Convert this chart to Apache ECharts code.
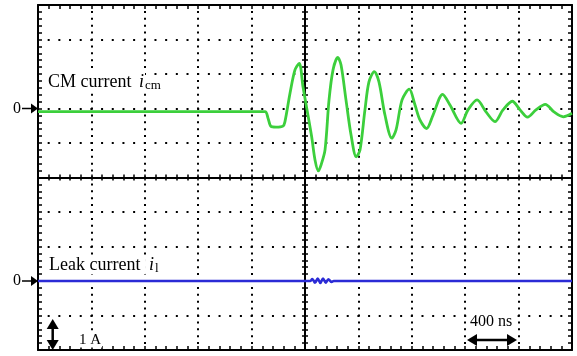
<!DOCTYPE html>
<html>
<head>
<meta charset="utf-8">
<script src="https://cdn.jsdelivr.net/npm/echarts@6/dist/echarts.min.js"></script>
<style>
  html, body { margin: 0; padding: 0; background: #fff; }
  #chart { width: 577px; height: 356px; }
</style>
</head>
<body>
<div id="chart"></div>
<script>
// scope trace, time in ns (trigger at 0), current in A (1 A/div, 400 ns/div)
const cmTime = [-2000, -300, -277, -255, -217, -165, -150, -112, -75, -43, -15, 13, 50, 75, 100, 120, 150, 180, 210, 245, 270, 307, 345, 384, 412, 449, 479, 519, 554, 599, 650, 682, 727, 781, 824, 861, 911, 959, 1031, 1086, 1169, 1221, 1289, 1356, 1423, 1483, 1553, 1611, 1667, 1730, 1800, 1865, 1935, 2000];
const cmCurrent = [-0.09, -0.09, -0.28, -0.52, -0.54, -0.51, -0.38, 0.45, 1.12, 1.31, 0.63, 0.01, -0.82, -1.49, -1.81, -1.64, -1.20, 0.25, 1.12, 1.48, 1.26, 0.25, -0.77, -1.40, -1.20, -0.04, 0.77, 1.07, 0.77, -0.19, -0.86, -0.62, 0.25, 0.56, 0.10, -0.33, -0.58, -0.19, 0.41, 0.10, -0.43, -0.04, 0.25, -0.10, -0.38, -0.04, 0.21, -0.04, -0.25, -0.04, 0.12, -0.10, -0.24, -0.14];

const leakTime = [-2000, 40, 55, 75, 95, 115, 135, 155, 175, 200, 215, 2000];
const leakCurrent = [0, 0, 0.06, -0.05, 0.07, -0.06, 0.07, -0.05, 0.05, -0.03, 0, 0];

// where each trace's zero sits on screen, in divisions from the centre
const cmOffset = 2;
const leakOffset = -3;

const chart = echarts.init(document.getElementById('chart'));

const blackLine = { color: '#000', width: 2 };
const tickStyle = { color: '#000', width: 1.5 };

function xAxisOf(pos, onZero, tickLen, split) {
  return {
    type: 'value', min: -2000, max: 2000, interval: 400, position: pos,
    axisLine: { show: true, onZero: onZero, onZeroAxisIndex: 0, lineStyle: blackLine },
    axisTick: { show: true, inside: true, length: tickLen, lineStyle: tickStyle },
    minorTick: { show: true, splitNumber: 5, length: tickLen, lineStyle: tickStyle },
    axisLabel: { show: false },
    splitLine: split ? {
      show: true,
      lineStyle: { color: '#000', width: 2, type: [2, 4.9], dashOffset: 1 }
    } : { show: false }
  };
}

function yAxisOf(pos, onZero, tickLen, split) {
  return {
    type: 'value', min: -5, max: 5, interval: 1, position: pos,
    axisLine: { show: true, onZero: onZero, onZeroAxisIndex: 0, lineStyle: blackLine },
    axisTick: { show: true, inside: true, length: tickLen, lineStyle: tickStyle },
    minorTick: { show: true, splitNumber: 5, length: tickLen, lineStyle: tickStyle },
    axisLabel: { show: false },
    splitLine: split ? {
      show: true,
      lineStyle: { color: '#000', width: 2, type: [2, 8.68], dashOffset: 1 }
    } : { show: false }
  };
}

const option = {
  animation: false,
  backgroundColor: '#fff',
  grid: { left: 38, right: 5, top: 5, bottom: 6, outerBoundsMode: 'none' },
  xAxis: [
    xAxisOf('bottom', false, 4, true),
    xAxisOf('top', false, 4, false),
    xAxisOf('bottom', true, 3, false),
    xAxisOf('top', true, 3, false)
  ],
  yAxis: [
    yAxisOf('left', false, 4, true),
    yAxisOf('right', false, 4, false),
    yAxisOf('left', true, 3, false),
    yAxisOf('right', true, 3, false)
  ],
  series: [
    {
      name: 'CM current',
      type: 'line',
      data: cmTime.map((t, i) => [t, cmCurrent[i] + cmOffset]),
      showSymbol: false,
      smooth: 0.3,
      z: 10,
      lineStyle: { color: '#3ccf3c', width: 2.8 }
    },
    {
      name: 'Leak current',
      type: 'line',
      data: leakTime.map((t, i) => [t, leakCurrent[i] + leakOffset]),
      showSymbol: false,
      smooth: 0.3,
      z: 10,
      lineStyle: { color: '#2b2bd6', width: 2.6 }
    }
  ]
};

chart.setOption(option);

// annotations: zero markers, trace names and the scale arrows
const toPx = (t, a) => chart.convertToPixel({ xAxisIndex: 0, yAxisIndex: 0 }, [t, a]);
const serif = '"Liberation Serif", "Times New Roman", serif';

function txt(x, y, text, size, italic, align, bg) {
  const style = {
    x: x, y: y, text: text, fill: '#000',
    font: (italic ? 'italic ' : '') + size + 'px ' + serif,
    align: align || 'left', textAlign: align || 'left',
    verticalAlign: 'middle', textVerticalAlign: 'middle'
  };
  if (bg) {
    style.backgroundColor = '#fff';
    style.padding = [0, 1];
  }
  return { type: 'text', z: 20, style: style };
}

function zeroMarker(offset) {
  const p = toPx(-2000, offset);
  const x0 = p[0], y0 = p[1];
  return [
    txt(x0 - 17, y0, '0', 16, false, 'right'),
    { type: 'line', z: 20, shape: { x1: x0 - 16, y1: y0, x2: x0 - 6, y2: y0 }, style: { stroke: '#000', lineWidth: 1.5 } },
    { type: 'polygon', z: 20, shape: { points: [[x0, y0], [x0 - 7, y0 - 5], [x0 - 7, y0 + 5]] }, style: { fill: '#000' } }
  ];
}

function doubleArrow(x1, y1, x2, y2) {
  const horiz = y1 === y2;
  const head = 10, half = 6;
  const els = [{ type: 'line', z: 20, shape: horiz ? { x1: x1 + 4, y1: y1, x2: x2 - 4, y2: y2 } : { x1: x1, y1: y1 + 4, x2: x2, y2: y2 - 4 }, style: { stroke: '#000', lineWidth: 2.5 } }];
  if (horiz) {
    els.push({ type: 'polygon', z: 20, shape: { points: [[x1, y1], [x1 + head, y1 - half], [x1 + head, y1 + half]] }, style: { fill: '#000' } });
    els.push({ type: 'polygon', z: 20, shape: { points: [[x2, y2], [x2 - head, y2 - half], [x2 - head, y2 + half]] }, style: { fill: '#000' } });
  } else {
    els.push({ type: 'polygon', z: 20, shape: { points: [[x1, y1], [x1 - half, y1 + head], [x1 + half, y1 + head]] }, style: { fill: '#000' } });
    els.push({ type: 'polygon', z: 20, shape: { points: [[x2, y2], [x2 - half, y2 - head], [x2 + half, y2 - head]] }, style: { fill: '#000' } });
  }
  return els;
}

const graphic = []
  .concat(zeroMarker(cmOffset))
  .concat(zeroMarker(leakOffset))
  .concat([
    txt(47, 82, 'CM current ', 18, false, 'left', true),
    txt(138, 82, 'i', 18, true, 'left', true),
    txt(144, 85.5, 'cm', 13, false, 'left', true),
    txt(48, 265.5, 'Leak current ', 18, false, 'left', true),
    txt(148, 265.5, 'i', 18, true, 'left', true),
    txt(154, 269, 'l', 13, false, 'left', true),
    txt(78, 340, '1 A', 15, false, 'left', true),
    txt(469, 321.5, '400 ns', 16, false, 'left', true)
  ])
  .concat(doubleArrow(52.7, 319, 52.7, 350))
  .concat(doubleArrow(467, 340, 517, 340));

chart.setOption({ graphic: graphic });
</script>
</body>
</html>
